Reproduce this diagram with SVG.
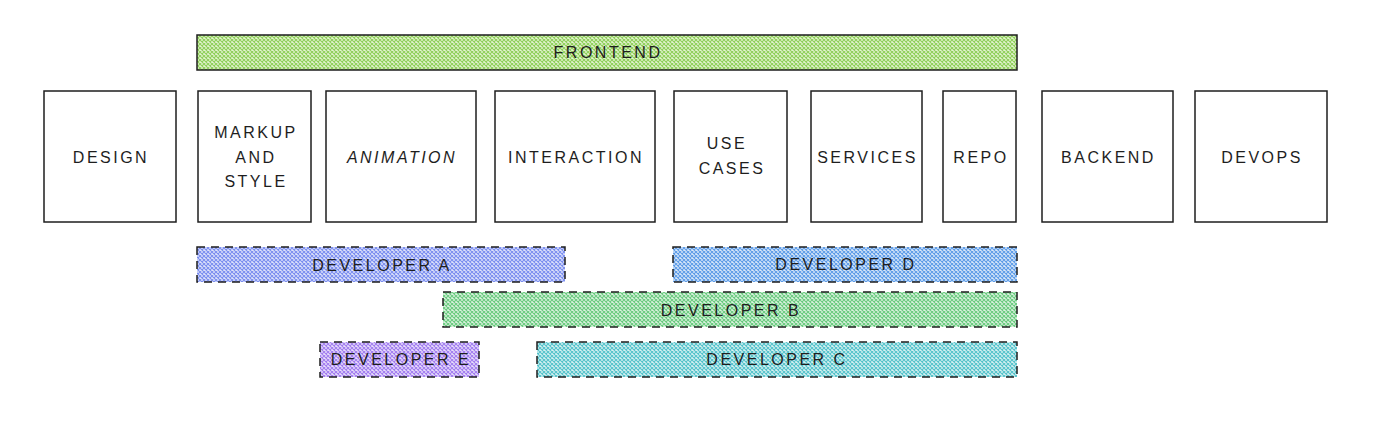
<svg xmlns="http://www.w3.org/2000/svg" width="1383" height="421" viewBox="0 0 1383 421">
<defs>
<pattern id="pGreen" width="4" height="4" patternUnits="userSpaceOnUse"><rect width="4" height="4" fill="#e4f3d2"/><path d="M0,0 L4,4 M4,0 L0,4" stroke="#8fd05a" stroke-width="1.1"/></pattern>
<pattern id="pBlueA" width="4" height="4" patternUnits="userSpaceOnUse"><rect width="4" height="4" fill="#dfe4fb"/><path d="M0,0 L4,4 M4,0 L0,4" stroke="#7b8ef0" stroke-width="1.1"/></pattern>
<pattern id="pBlueD" width="4" height="4" patternUnits="userSpaceOnUse"><rect width="4" height="4" fill="#dbe9f9"/><path d="M0,0 L4,4 M4,0 L0,4" stroke="#5d9ce8" stroke-width="1.1"/></pattern>
<pattern id="pGreenB" width="4" height="4" patternUnits="userSpaceOnUse"><rect width="4" height="4" fill="#dcf2e0"/><path d="M0,0 L4,4 M4,0 L0,4" stroke="#6acb7f" stroke-width="1.1"/></pattern>
<pattern id="pPurple" width="4" height="4" patternUnits="userSpaceOnUse"><rect width="4" height="4" fill="#e8dffb"/><path d="M0,0 L4,4 M4,0 L0,4" stroke="#a27df0" stroke-width="1.1"/></pattern>
<pattern id="pTeal" width="4" height="4" patternUnits="userSpaceOnUse"><rect width="4" height="4" fill="#d8f1f2"/><path d="M0,0 L4,4 M4,0 L0,4" stroke="#55c3cb" stroke-width="1.1"/></pattern>
</defs>
<style>
.box{fill:#fff;stroke:#1e1e1e;stroke-width:1.5}
.band{stroke:#1e1e1e;stroke-width:1.5;stroke-dasharray:8 6}
.solid{stroke:#1e1e1e;stroke-width:1.5}
text{font-family:"Liberation Sans","DejaVu Sans",sans-serif;font-size:16px;letter-spacing:2.5px;fill:#1e1e1e;text-anchor:middle;dominant-baseline:central}
</style>
<rect width="1383" height="421" fill="#fff"/>
<g id="frontend"><rect class="solid" x="197" y="35" width="820" height="35" fill="url(#pGreen)"/><text x="608" y="52">FRONTEND</text></g>
<g id="design"><rect class="box" x="44" y="91" width="132" height="131"/><text x="111" y="157">DESIGN</text></g>
<g id="markup"><rect class="box" x="198" y="91" width="113" height="131"/><text x="256" y="132">MARKUP</text><text x="256" y="157">AND</text><text x="256" y="181">STYLE</text></g>
<g id="animation"><rect class="box" x="326" y="91" width="150" height="131"/><text x="402" y="157" font-style="italic">ANIMATION</text></g>
<g id="interaction"><rect class="box" x="495" y="91" width="160" height="131"/><text x="576" y="157">INTERACTION</text></g>
<g id="usecases"><rect class="box" x="674" y="91" width="113" height="131"/><text x="727" y="143">USE</text><text x="732" y="168">CASES</text></g>
<g id="services"><rect class="box" x="811" y="91" width="111" height="131"/><text x="867.5" y="157">SERVICES</text></g>
<g id="repo"><rect class="box" x="943" y="91" width="73" height="131"/><text x="981" y="157">REPO</text></g>
<g id="backend"><rect class="box" x="1042" y="91" width="131" height="131"/><text x="1108.5" y="157">BACKEND</text></g>
<g id="devops"><rect class="box" x="1195" y="91" width="132" height="131"/><text x="1262" y="157">DEVOPS</text></g>
<g id="devA"><rect class="band" x="197" y="247" width="368" height="35" fill="url(#pBlueA)"/><text x="382" y="265">DEVELOPER A</text></g>
<g id="devD"><rect class="band" x="673" y="247" width="344" height="35" fill="url(#pBlueD)"/><text x="846" y="264">DEVELOPER D</text></g>
<g id="devB"><rect class="band" x="443" y="292" width="574" height="35" fill="url(#pGreenB)"/><text x="731" y="310">DEVELOPER B</text></g>
<g id="devE"><rect class="band" x="320" y="342" width="159" height="35" fill="url(#pPurple)"/><text x="401" y="359">DEVELOPER E</text></g>
<g id="devC"><rect class="band" x="537" y="342" width="480" height="35" fill="url(#pTeal)"/><text x="777" y="359">DEVELOPER C</text></g>
<g id="connectors"></g>
</svg>
